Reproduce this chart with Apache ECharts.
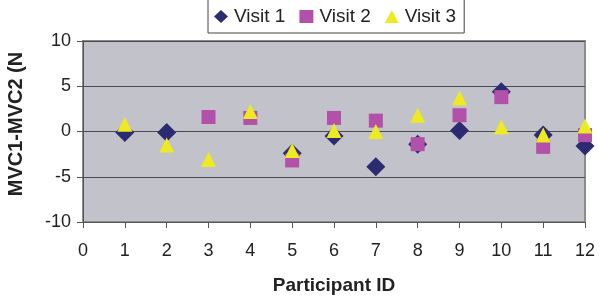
<!DOCTYPE html>
<html>
<head>
<meta charset="utf-8">
<script src="https://cdn.jsdelivr.net/npm/echarts@6/dist/echarts.min.js"></script>
<style>
  html, body { margin: 0; padding: 0; background: #fff; }
  #chart { width: 600px; height: 296px; }
</style>
</head>
<body>
<div id="chart"></div>
<script>
// values, null where no marker shows
const participants = [1, 2, 3, 4, 5, 6, 7, 8, 9, 10, 11, 12]
const visit1 = [-0.1, -0.1, null, null, -2.4, -0.5, -3.9, -1.4, 0.1, 4.4, -0.4, -1.6]
const visit2 = [null, null, 1.6, 1.5, -3.2, 1.5, 1.2, -1.4, 1.8, 3.8, -1.7, -0.4]
const visit3 = [0.8, -1.5, -3.1, 2.2, -2.1, 0.1, 0.0, 1.8, 3.7, 0.5, -0.4, 0.6]
const yTicks = [-10, -5, 0, 5, 10]

function pairs(values) {
  return participants
    .map((p, i) => [p, values[i]])
    .filter(d => d[1] !== null)
}

const chart = echarts.init(document.getElementById('chart'))

const labelFont = { fontFamily: 'Liberation Sans', fontSize: 18, color: '#222' }

chart.setOption({
  animation: false,
  textStyle: { fontFamily: 'Liberation Sans' },
  legend: {
    left: 208,
    top: -2,
    padding: [9, 8, 7, 6],
    itemGap: 14,
    itemWidth: 14,
    itemHeight: 13,
    borderColor: '#444',
    borderWidth: 1,
    textStyle: { fontSize: 19, color: '#222', padding: [0, 0, 0, 1] },
    data: [
      { name: 'Visit 1', icon: 'diamond' },
      { name: 'Visit 2', icon: 'rect' },
      { name: 'Visit 3', icon: 'triangle' }
    ]
  },
  grid: {
    left: 83,
    right: 15,
    top: 41,
    bottom: 74,
    outerBoundsMode: 'none',
    show: true,
    backgroundColor: '#c1c2ca',
    borderColor: '#8c8c8c',
    borderWidth: 2
  },
  xAxis: {
    type: 'value',
    min: 0,
    max: 12,
    interval: 1,
    name: 'Participant ID',
    nameLocation: 'middle',
    nameGap: 54,
    nameTextStyle: { fontSize: 19, fontWeight: 'bold', color: '#222' },
    axisLine: { onZero: false, lineStyle: { color: '#555', width: 1 } },
    axisTick: { show: true, length: 6, lineStyle: { color: '#555' } },
    axisLabel: Object.assign({ margin: 20 }, labelFont),
    splitLine: { show: false }
  },
  yAxis: {
    type: 'value',
    min: yTicks[0],
    max: yTicks[yTicks.length - 1],
    interval: 5,
    name: 'MVC1-MVC2 (N',
    nameLocation: 'middle',
    nameGap: 57,
    nameTextStyle: { fontSize: 20, fontWeight: 'bold', color: '#222', padding: [0, 0, 0, 15] },
    axisLine: { show: true, lineStyle: { color: '#555', width: 1 } },
    axisTick: { show: true, length: 6, lineStyle: { color: '#555' } },
    axisLabel: Object.assign({ margin: 12 }, labelFont),
    splitLine: { show: true, lineStyle: { color: '#4a4a4a', width: 1 } }
  },
  series: [
    {
      name: 'Visit 1',
      type: 'scatter',
      symbol: 'diamond',
      symbolSize: 19,
      itemStyle: { color: '#2c2a70', opacity: 1 },
      data: pairs(visit1)
    },
    {
      name: 'Visit 2',
      type: 'scatter',
      symbol: 'rect',
      symbolSize: 14,
      itemStyle: { color: '#b350aa', opacity: 1 },
      data: pairs(visit2)
    },
    {
      name: 'Visit 3',
      type: 'scatter',
      symbol: 'triangle',
      symbolSize: 15,
      itemStyle: { color: '#eeea22', opacity: 1 },
      data: pairs(visit3)
    }
  ]
})
</script>
</body>
</html>
